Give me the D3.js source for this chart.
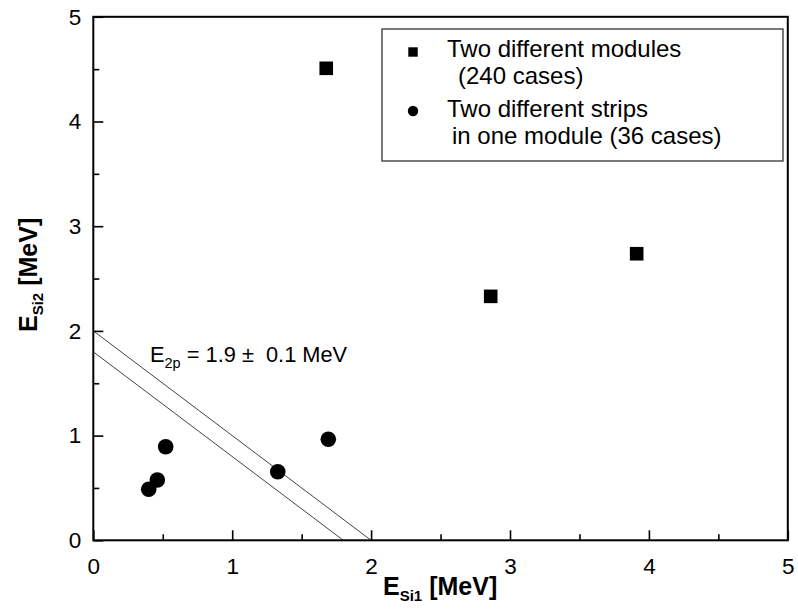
<!DOCTYPE html>
<html><head><meta charset="utf-8">
<script src="https://cdn.jsdelivr.net/npm/d3@7"></script>
<style>body{margin:0;background:#fff}svg{font-family:"Liberation Sans",Arial,sans-serif}</style>
</head><body><svg id="c" width="798" height="613"></svg>
<script>
const xTicks = [0,1,2,3,4,5];
const yTicks = [0,1,2,3,4,5];
const modulesX = [1.677, 2.861, 3.912];
const modulesY = [4.508, 2.330, 2.737];
const stripsX = [0.399, 0.461, 0.521, 1.328, 1.692];
const stripsY = [0.487, 0.576, 0.894, 0.655, 0.965];
const bandUpper = [[0, 2.0], [2.0, 0]];
const bandLower = [[0, 1.8], [1.8, 0]];
const legendLabels = [["Two different modules", "(240 cases)"], ["Two different strips", "in one module (36 cases)"]];

const svg = d3.select("#c");
const L = 93.3, R = 787.8, T = 16.8, B = 540.3;
const x = d3.scaleLinear().domain([0,5]).range([L,R]);
const y = d3.scaleLinear().domain([0,5]).range([B,T]);

// band lines
const line = d3.line().x(d=>x(d[0])).y(d=>y(d[1]));
[bandUpper, bandLower].forEach(b=>{
  svg.append("path").attr("d", line(b)).attr("fill","none").attr("stroke","#444").attr("stroke-width",1);
});

// axes with inward ticks
const minor = d3.range(0.5,5,1);
const gx = svg.append("g").attr("transform",`translate(0,${B})`);
gx.call(d3.axisBottom(x).tickValues(xTicks).tickSize(-10).tickPadding(18).tickFormat(d3.format("d")));
const gxm = svg.append("g").attr("transform",`translate(0,${B})`);
gxm.call(d3.axisBottom(x).tickValues(minor).tickSize(-6).tickFormat(""));
const gy = svg.append("g").attr("transform",`translate(${L},0)`);
gy.call(d3.axisLeft(y).tickValues(yTicks).tickSize(-10).tickPadding(12).tickFormat(d3.format("d")));
const gym = svg.append("g").attr("transform",`translate(${L},0)`);
gym.call(d3.axisLeft(y).tickValues(minor).tickSize(-6).tickFormat(""));
[gx,gxm,gy,gym].forEach(g=>{
  g.select(".domain").remove();
  g.selectAll("line").attr("stroke","#000").attr("stroke-width",1.6);
  g.selectAll("text").attr("font-size",22.5).attr("fill","#000").attr("font-family","Liberation Sans, Arial, sans-serif");
});
gx.selectAll("text").attr("dy","0.71em");
// frame
svg.append("rect").attr("x",L).attr("y",T).attr("width",R-L).attr("height",B-T)
  .attr("fill","none").attr("stroke","#000").attr("stroke-width",2);

// points
svg.append("g").selectAll("rect").data(modulesX).join("rect")
  .attr("x",(d,i)=>x(d)-6.8).attr("y",(d,i)=>y(modulesY[i])-6.8)
  .attr("width",13.6).attr("height",13.6).attr("fill","#000");
svg.append("g").selectAll("circle").data(stripsX).join("circle")
  .attr("cx",d=>x(d)).attr("cy",(d,i)=>y(stripsY[i])).attr("r",7.8).attr("fill","#000");

// annotation
const ann = svg.append("text").attr("x",150).attr("y",362).attr("font-size",21.8).attr("fill","#000").attr("xml:space","preserve");
ann.append("tspan").text("E");
ann.append("tspan").attr("font-size",14.5).attr("dy",6).text("2p");
ann.append("tspan").attr("dy",-6).text(" = 1.9 \u00b1  0.1 MeV");

// legend
svg.append("rect").attr("x",382).attr("y",29).attr("width",401).attr("height",132)
  .attr("fill","#fff").attr("stroke","#222").attr("stroke-width",1.2);
svg.append("rect").attr("x",413-4.7).attr("y",52-4.7).attr("width",9.4).attr("height",9.4).attr("fill","#000");
svg.append("circle").attr("cx",413).attr("cy",111).attr("r",5.2).attr("fill","#000");
const lg = svg.append("g").attr("font-size",24).attr("fill","#000");
lg.append("text").attr("x",447).attr("y",57).text(legendLabels[0][0]);
lg.append("text").attr("x",458).attr("y",84).text(legendLabels[0][1]);
lg.append("text").attr("x",447).attr("y",117).text(legendLabels[1][0]);
lg.append("text").attr("x",452).attr("y",144).text(legendLabels[1][1]);

// axis titles
const xt = svg.append("text").attr("x",383).attr("y",595).attr("font-size",25).attr("font-weight","bold").attr("fill","#000");
xt.append("tspan").text("E");
xt.append("tspan").attr("font-size",15).attr("dy",6).text("Si1");
xt.append("tspan").attr("dy",-6).text(" [MeV]");
const yt = svg.append("text").attr("transform","translate(37,332) rotate(-90)").attr("font-size",25).attr("font-weight","bold").attr("fill","#000");
yt.append("tspan").text("E");
yt.append("tspan").attr("font-size",15).attr("dy",6).text("Si2");
yt.append("tspan").attr("dy",-6).text(" [MeV]");
</script></body></html>
